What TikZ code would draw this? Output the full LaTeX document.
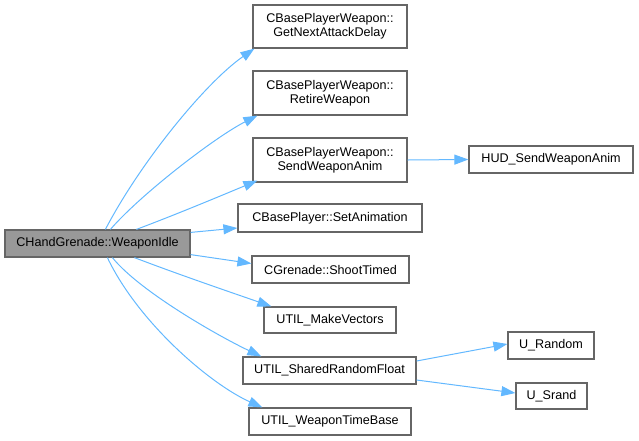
\documentclass[tikz,border=0pt]{standalone}
\usepackage{fontspec}
\setmainfont{Liberation Sans}
\usetikzlibrary{arrows.meta}
\definecolor{edgeblue}{HTML}{63B8FF}
\definecolor{boxgray}{HTML}{666666}
\definecolor{mainfill}{HTML}{999999}
\begin{document}
\begin{tikzpicture}[x=1pt,y=-1pt,
  box/.style={draw=boxgray,line width=1.2pt,fill=white,inner sep=0pt,minimum height=27pt,
    align=center,font=\fontsize{12.6}{14}\selectfont},
  mainbox/.style={box,fill=mainfill},
  edge/.style={draw=edgeblue,line width=1pt,-{Triangle[length=14pt,width=10pt]}}]
\useasboundingbox (0,0) rectangle (639,440);
\node[mainbox,minimum width=185pt] (main) at (97.5,243.5) {CHandGrenade::WeaponIdle};
\node[box,minimum width=154pt,minimum height=43pt] (gn) at (330,26.5) {CBasePlayerWeapon::\\GetNextAttackDelay};
\node[box,minimum width=154pt,minimum height=44pt] (rw) at (330,93) {CBasePlayerWeapon::\\RetireWeapon};
\node[box,minimum width=154pt,minimum height=44pt] (swa) at (330,160) {CBasePlayerWeapon::\\SendWeaponAnim};
\node[box,minimum width=184pt,minimum height=28pt] (sa) at (330,218) {CBasePlayer::SetAnimation};
\node[box,minimum width=157pt] (st) at (330.5,269.5) {CGrenade::ShootTimed};
\node[box,minimum width=132pt,minimum height=26pt] (mv) at (330,320) {UTIL\_MakeVectors};
\node[box,minimum width=173pt] (srf) at (329.5,370.5) {UTIL\_SharedRandomFloat};
\node[box,minimum width=162pt] (wtb) at (330,421.5) {UTIL\_WeaponTimeBase};
\node[box,minimum width=164pt] (hud) at (551,159.5) {HUD\_SendWeaponAnim};
\node[box,minimum width=86pt] (ur) at (551,345.5) {U\_Random};
\node[box,minimum width=71pt,minimum height=26pt] (us) at (551.5,396) {U\_Srand};

\draw[edge] ([xshift=101pt]main.north west) .. controls (140,163) and (205,83) .. ([xshift=2pt]gn.south west);
\draw[edge] ([xshift=106pt]main.north west) .. controls (140,195) and (215,137) .. ([xshift=5pt]rw.south west);
\draw[edge] ([xshift=132pt]main.north west) .. controls (180,213) and (225,194) .. ([xshift=5pt,yshift=2pt]swa.south west);
\draw[edge] ([yshift=-3pt]main.north east) -- ([yshift=-10pt]sa.west);
\draw[edge] ([yshift=3pt]main.south east) -- ([yshift=6pt]st.west);
\draw[edge] ([xshift=130pt]main.south west) .. controls (180,275) and (230,292) .. ([xshift=8pt]mv.north west);
\draw[edge] ([xshift=108pt]main.south west) .. controls (140,292) and (222,338) .. ([xshift=19pt]srf.north west);
\draw[edge] ([xshift=103pt]main.south west) .. controls (138,322) and (210,384) .. ([xshift=14pt]wtb.north west);
\draw[edge] (swa.east) -- (hud.west);
\draw[edge] ([yshift=9.5pt]srf.east) -- ([yshift=1.5pt]ur.west);
\draw[edge] ([yshift=-9.5pt]srf.east) -- ([yshift=3pt]us.west);
\end{tikzpicture}
\end{document}
